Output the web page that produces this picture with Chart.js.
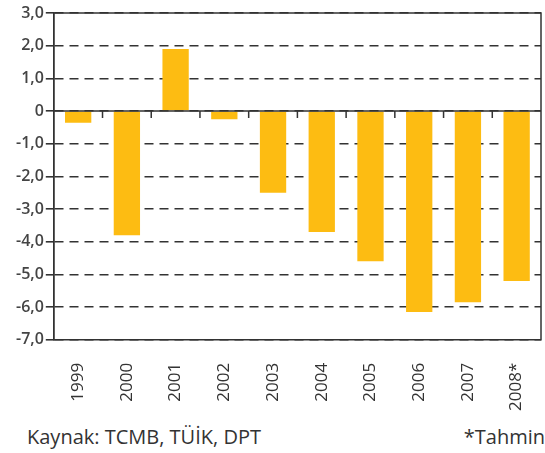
<!DOCTYPE html>
<html>
<head>
<meta charset="utf-8">
<script src="https://cdn.jsdelivr.net/npm/chart.js@4/dist/chart.umd.min.js"></script>
<style>
    body { margin: 0; background: #fff; }
    #wrap { position: relative; width: 545px; height: 453px; }
    #box { position: absolute; left: 0; top: 0; width: 545px; height: 418px; }
    .note { position: absolute; top: 423px; font-family: "Open Sans", sans-serif; font-size: 20px; color: #333; }
</style>
</head>
<body>
<div id="wrap">
    <div id="box"><canvas id="myChart"></canvas></div>
    <div class="note" style="left: 27px;">Kaynak: TCMB, TÜİK, DPT</div>
    <div class="note" style="right: 0px;">*Tahmin</div>
</div>
<script>
const years = ['1999', '2000', '2001', '2002', '2003', '2004', '2005', '2006', '2007', '2008*'];
const balance = [-0.36, -3.8, 1.9, -0.25, -2.5, -3.7, -4.6, -6.15, -5.85, -5.2];
const yMin = -7;
const yMax = 3;

// frame, zero line and category ticks on the zero line
const framePlugin = {
    id: 'frame',
    afterDraw(chart) {
        const ctx = chart.ctx;
        const a = chart.chartArea;
        const x = chart.scales.x;
        const y0 = chart.scales.y.getPixelForValue(0);
        ctx.save();
        ctx.strokeStyle = '#333';
        ctx.lineWidth = 1.5;
        ctx.strokeRect(a.left, a.top, a.right - a.left, a.bottom - a.top);
        ctx.beginPath();
        ctx.moveTo(a.left, y0);
        ctx.lineTo(a.right, y0);
        for (let i = 1; i < years.length; i++) {
            const px = (x.getPixelForValue(i - 1) + x.getPixelForValue(i)) / 2;
            ctx.moveTo(px, y0);
            ctx.lineTo(px, y0 + 7);
        }
        ctx.stroke();
        ctx.restore();
    }
};

const data = {
    labels: years,
    datasets: [{
        data: balance,
        backgroundColor: '#FDBC12',
        borderWidth: 0,
        barPercentage: 0.54,
        categoryPercentage: 1
    }]
};

const config = {
    type: 'bar',
    data: data,
    options: {
        responsive: true,
        maintainAspectRatio: false,
        animation: false,
        layout: {
            padding: { left: 14, right: 4, top: 13, bottom: 4 }
        },
        plugins: {
            legend: { display: false },
            tooltip: { enabled: false }
        },
        scales: {
            y: {
                min: yMin,
                max: yMax,
                z: 1,
                grid: {
                    color: '#333',
                    lineWidth: 1.6,
                    tickLength: 8,
                    tickColor: '#333'
                },
                border: {
                    display: true,
                    color: '#333',
                    width: 1.5,
                    dash: [9, 6]
                },
                ticks: {
                    stepSize: 1,
                    padding: 2,
                    color: '#444',
                    font: { family: 'Open Sans', size: 16, weight: '600' },
                    callback: function (v) {
                        return v === 0 ? '0' : v.toFixed(1).replace('.', ',');
                    }
                }
            },
            x: {
                // invisible tick marks only give room under the plot
                grid: {
                    drawOnChartArea: false,
                    color: 'rgba(0,0,0,0)',
                    tickLength: 20
                },
                border: { display: false },
                ticks: {
                    minRotation: 90,
                    maxRotation: 90,
                    padding: 3,
                    color: '#333',
                    font: { family: 'Open Sans', size: 17 }
                }
            }
        }
    },
    plugins: [framePlugin]
};

var ctx = document.getElementById('myChart');
const myChart = new Chart(ctx, config);
</script>
</body>
</html>
